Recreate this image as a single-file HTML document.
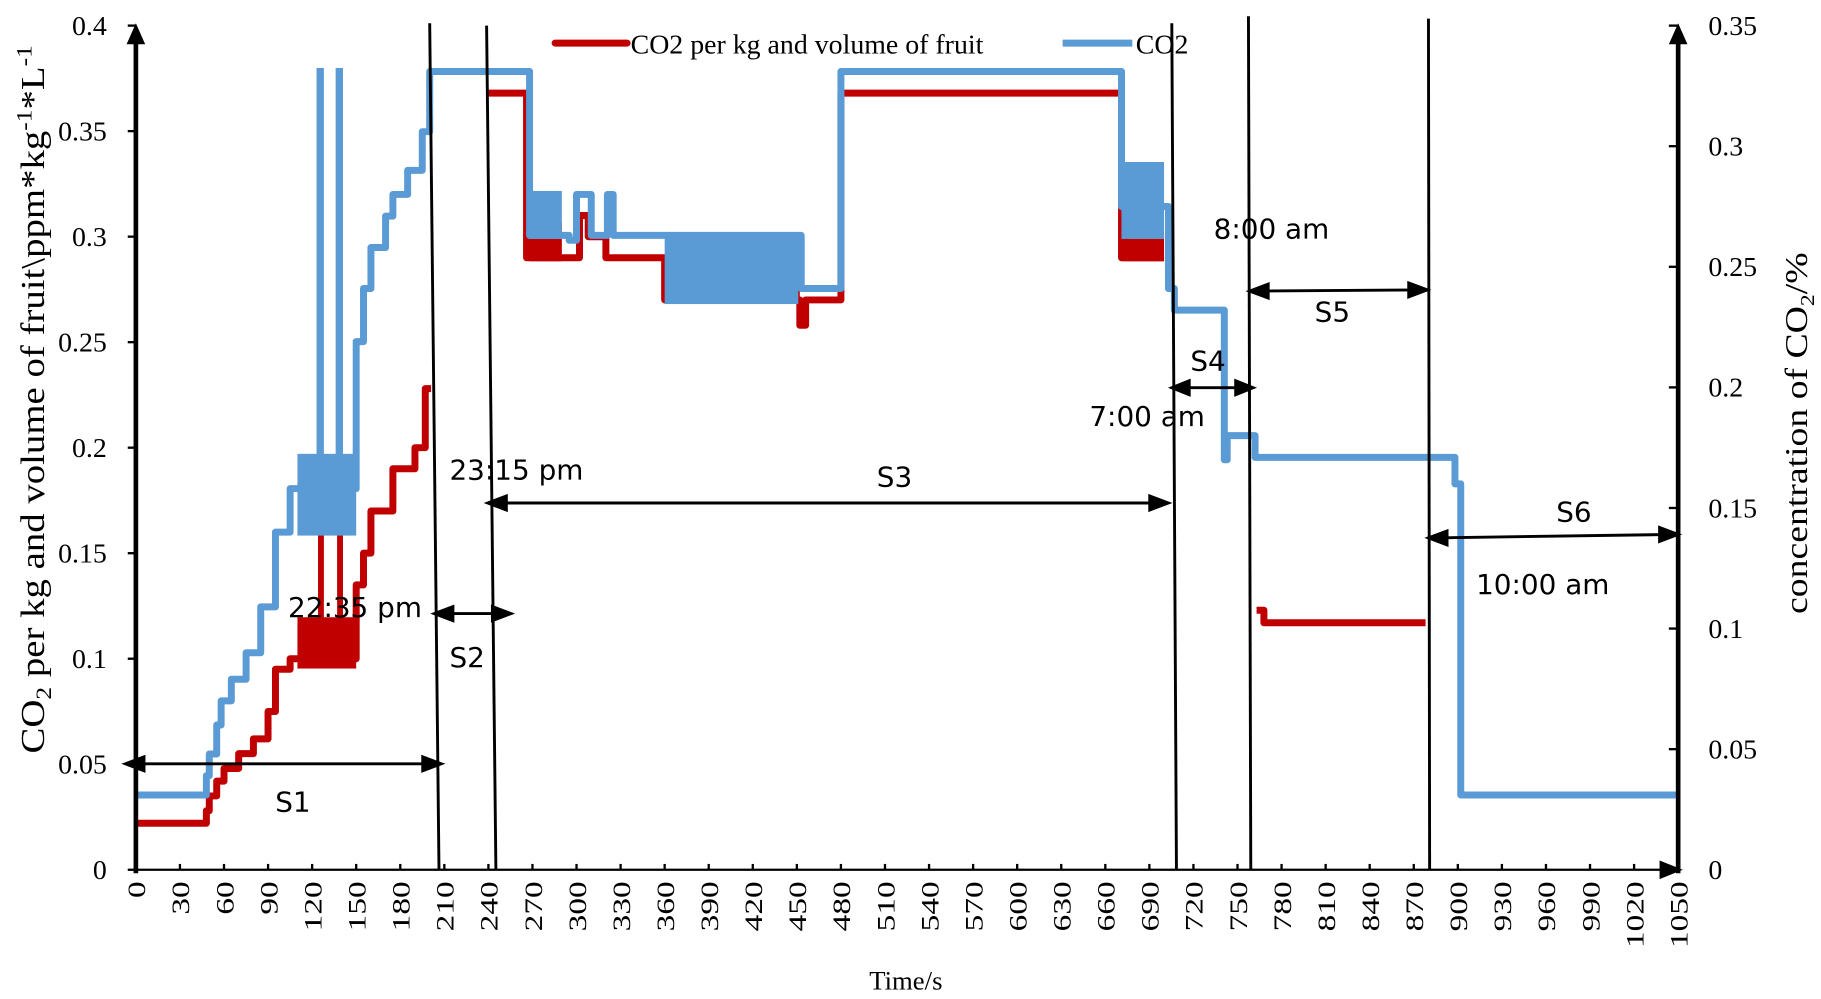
<!DOCTYPE html>
<html><head><meta charset="utf-8"><style>
html,body{margin:0;padding:0;background:#fff;}
svg{display:block;}
.serif{font-family:"Liberation Serif",serif;}
.sans{font-family:"DejaVu Sans","Liberation Sans",sans-serif;}
</style></head><body>
<svg id="chart" width="1821" height="999" viewBox="0 0 1568 858" preserveAspectRatio="none" xmlns="http://www.w3.org/2000/svg">
<g id="plot"></g>
<g id="axes"></g>
</svg>
<script>
// ---- data ----
const xTicks = [0,30,60,90,120,150,180,210,240,270,300,330,360,390,420,450,480,510,540,570,600,630,660,690,720,750,780,810,840,870,900,930,960,990,1020,1050];
const leftTicks = [0,0.05,0.1,0.15,0.2,0.25,0.3,0.35,0.4];
const leftLabels = ["0","0.05","0.1","0.15","0.2","0.25","0.3","0.35","0.4"];
const rightTicks = [0,0.05,0.1,0.15,0.2,0.25,0.3,0.35];
const rightLabels = ["0","0.05","0.1","0.15","0.2","0.25","0.3","0.35"];
// red series: per kg/volume (left axis), step segments
const redT1 = [0,48,50,55,60,70,80,90,95,105,110,150,155,160,175,190,197,201];
const redV1 = [0.022,0.028,0.035,0.042,0.048,0.055,0.062,0.075,0.095,0.1,0.1,0.135,0.15,0.17,0.19,0.2,0.228,0.228];
const redT2 = [240,264,266,300,302,306,308,318,320,358,360,450,452,454,456,479,480,670,671,700];
const redV2 = [0.368,0.368,0.29,0.29,0.31,0.31,0.3,0.3,0.29,0.29,0.27,0.27,0.258,0.258,0.27,0.27,0.368,0.368,0.29,0.29];
const redT3 = [763,766,768,878];
const redV3 = [0.123,0.123,0.117,0.117];
// red noisy bands [start,end,low,high]
const redBands = [[110,150,0.097,0.118],[124,128,0.1,0.16],[137,141,0.1,0.16],[268,290,0.29,0.305],[360,452,0.27,0.28],[671,700,0.29,0.3]];
// blue series: CO2 % (right axis)
const blueT = [0,48,50,55,58,65,75,85,95,105,110,150,155,160,170,175,185,195,200,266,268,290,295,300,305,310,318,321,325,360,451,453,479,480,670,671,700,703,707,741,743,745,762,896,898,902,1050];
const blueV = [0.031,0.039,0.048,0.06,0.07,0.079,0.09,0.109,0.14,0.158,0.158,0.219,0.241,0.258,0.271,0.28,0.29,0.306,0.331,0.331,0.263,0.263,0.261,0.28,0.28,0.263,0.263,0.28,0.263,0.263,0.263,0.241,0.241,0.331,0.331,0.275,0.275,0.241,0.232,0.17,0.18,0.18,0.171,0.171,0.16,0.031,0.031];
const blueBands = [[110,150,0.14,0.171],[123,128,0.171,0.331],[136,141,0.171,0.331],[268,290,0.263,0.28],[360,451,0.236,0.261],[671,700,0.263,0.292]];

// ---- scales ----
const X0=117,X1=1445,Y0=747,Y1=22;
const xs=t=>X0+(t/1050)*(X1-X0);
const yl=v=>Y0-(v/0.4)*(Y0-Y1);
const yr=v=>Y0-(v/0.35)*(Y0-Y1);
const NS="http://www.w3.org/2000/svg";
function mk(tag,attrs,parent,text){const e=document.createElementNS(NS,tag);for(const k in attrs)e.setAttribute(k,attrs[k]);if(text!==undefined)e.textContent=text;parent.appendChild(e);return e;}
const plot=document.getElementById('plot'),axes=document.getElementById('axes');
const RED="#c00000",BLUE="#5b9bd5";
function stepLine(T,V,ys,color,name){
  let d="M"+xs(T[0]).toFixed(1)+","+ys(V[0]).toFixed(1);
  for(let i=1;i<T.length;i++){d+="H"+xs(T[i]).toFixed(1)+"V"+ys(V[i]).toFixed(1);}
  const p=mk('path',{d:d,fill:"none",stroke:color,"stroke-width":6,"stroke-linejoin":"round"},plot);
  
  
}
function bands(B,ys,color,name){
  B.forEach(b=>{
    const r=mk('rect',{x:xs(b[0]),y:ys(b[3])-3,width:xs(b[1])-xs(b[0]),height:ys(b[2])-ys(b[3])+6,fill:color},plot);
    
    
  });
}
stepLine(redT1,redV1,yl,RED,'per-kg-line-s1');
stepLine(redT2,redV2,yl,RED,'per-kg-line-s3');
stepLine(redT3,redV3,yl,RED,'per-kg-line-s5');
bands(redBands,yl,RED,'per-kg-noise-band');
stepLine(blueT,blueV,yr,BLUE,'co2-line');
bands(blueBands,yr,BLUE,'co2-noise-band');

// ---- axes ----
mk('line',{x1:X0,y1:Y0,x2:X1,y2:Y0,stroke:"#000","stroke-width":2},axes);
mk('polygon',{points:`${X1+4},${Y0} ${X1-16},${Y0-8} ${X1-16},${Y0+8}`,fill:"#000"},axes);
mk('line',{x1:X0,y1:Y0+3,x2:X0,y2:Y1+8,stroke:"#000","stroke-width":4},axes);
mk('polygon',{points:`${X0},${Y1-2} ${X0-8},${Y1+16} ${X0+8},${Y1+16}`,fill:"#000"},axes);
mk('line',{x1:X1,y1:Y0+3,x2:X1,y2:Y1+8,stroke:"#000","stroke-width":4},axes);
mk('polygon',{points:`${X1},${Y1-2} ${X1-8},${Y1+16} ${X1+8},${Y1+16}`,fill:"#000"},axes);
xTicks.forEach((t,i)=>{
  const x=xs(t);
  const l=mk('line',{x1:x,y1:Y0,x2:x,y2:Y0-5,stroke:"#000","stroke-width":2},axes);
  
  
  const tx=mk('text',{x:0,y:0,class:"serif","font-size":22,"text-anchor":"end",transform:`translate(${x+8},${Y0+10}) rotate(-90) scale(1.3,1)`},axes,String(t));
  
  
});
leftTicks.forEach((v,i)=>{
  const y=yl(v);
  mk('line',{x1:X0-7,y1:y,x2:X0,y2:y,stroke:"#000","stroke-width":2},axes);
  const tx=mk('text',{x:92,y:y+8,class:"serif","font-size":24,"text-anchor":"end"},axes,leftLabels[i]);
  
  
});
rightTicks.forEach((v,i)=>{
  const y=yr(v);
  mk('line',{x1:X1-8,y1:y,x2:X1,y2:y,stroke:"#000","stroke-width":2},axes);
  const tx=mk('text',{x:1471,y:y+8,class:"serif","font-size":24,"text-anchor":"start"},axes,rightLabels[i]);
  
  
});
</script>
<svg style="position:absolute;left:0;top:0" width="1821" height="999" viewBox="0 0 1568 858" preserveAspectRatio="none" xmlns="http://www.w3.org/2000/svg">
<text class="serif" x="780" y="850" font-size="23" text-anchor="middle">Time/s</text>
<text class="serif" font-size="29" text-anchor="middle" transform="translate(38,343) rotate(-90) scale(1.15,1)">CO<tspan font-size="19" dy="6">2</tspan><tspan dy="-6"> per kg and volume  of fruit\ppm*kg</tspan><tspan font-size="19" dy="-11">-1</tspan><tspan dy="11">*L</tspan><tspan font-size="19" dy="-11">-1</tspan></text>
<text class="serif" font-size="27" text-anchor="middle" transform="translate(1556,372) rotate(-90) scale(1.2,1)">concentration of CO<tspan font-size="17" dy="6">2</tspan><tspan dy="-6">/%</tspan></text>
<g>
<line x1="478" y1="37" x2="540" y2="37" stroke="#c00000" stroke-width="6" stroke-linecap="round"/>
<text class="serif" x="543" y="46" font-size="24">CO2 per kg and volume of fruit</text>
<line x1="915" y1="37" x2="975" y2="37" stroke="#5b9bd5" stroke-width="6"/>
<text class="serif" x="978" y="46" font-size="24">CO2</text>
</g>
<g stroke="#000" stroke-width="2.5">
<line x1="370" y1="20" x2="378" y2="747"/>
<line x1="419" y1="22" x2="427" y2="747"/>
<line x1="1009" y1="20" x2="1013" y2="747"/>
<line x1="1075" y1="14" x2="1077" y2="747"/>
<line x1="1230" y1="16" x2="1231" y2="747"/>
</g>
<g stroke="#000" stroke-width="2.5" fill="#000">
<line x1="112" y1="656" x2="376" y2="656"/><polygon points="108,656 124,650 124,662"/><polygon points="380,656 364,650 364,662"/>
<line x1="378" y1="527" x2="436" y2="527"/><polygon points="374,527 390,521 390,533"/><polygon points="440,527 424,521 424,533"/>
<line x1="424" y1="432" x2="1002" y2="432"/><polygon points="420,432 436,426 436,438"/><polygon points="1006,432 990,426 990,438"/>
<line x1="1012" y1="333" x2="1075" y2="333"/><polygon points="1009,333 1024,327 1024,339"/><polygon points="1079,333 1064,327 1064,339"/>
<line x1="1079" y1="250" x2="1225" y2="249"/><polygon points="1076,250 1092,244 1092,256"/><polygon points="1229,249 1213,243 1213,255"/>
<line x1="1234" y1="462" x2="1441" y2="459"/><polygon points="1230,462 1246,456 1246,468"/><polygon points="1445,459 1429,453 1429,465"/>
</g>
<g class="sans" font-size="24" fill="#000">
<text x="237" y="697">S1</text>
<text x="387" y="573">S2</text>
<text x="755" y="418">S3</text>
<text x="1025" y="318">S4</text>
<text x="1132" y="276">S5</text>
<text x="1340" y="448">S6</text>
<text x="248" y="530">22:35 pm</text>
<text x="387" y="412">23:15 pm</text>
<text x="938" y="366">7:00 am</text>
<text x="1045" y="205">8:00 am</text>
<text x="1271" y="510">10:00 am</text>
</g>
</svg>
</body></html>
